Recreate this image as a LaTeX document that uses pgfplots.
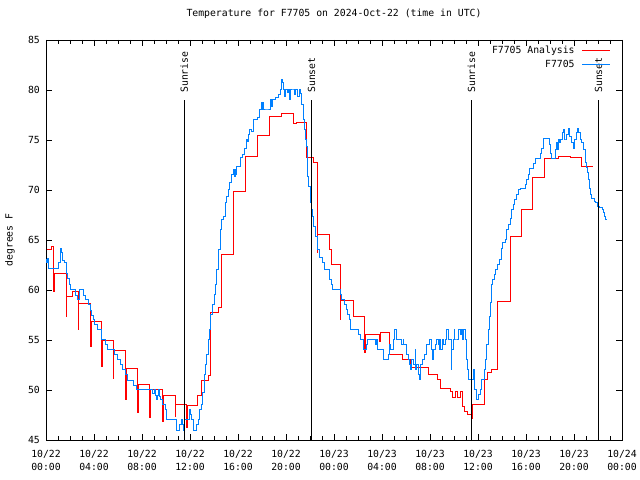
\documentclass[border=0pt]{standalone}
\usepackage{fontspec}
\setmainfont{DejaVu Sans Mono}
\usepackage{pgfplots}
\usepackage{pgfplotstable}
\pgfplotsset{compat=1.18}
\definecolor{obsblue}{RGB}{0,128,255}
\definecolor{anared}{RGB}{255,0,0}

% hours since 10/22 00:00 UTC, degrees F
\pgfplotstableread{
h T
0.05 64.0
0.47 64.3
0.64 59.8
0.70 61.6
1.67 57.3
1.72 59.3
2.22 59.8
2.69 56.0
2.74 58.6
3.72 54.3
3.77 56.8
4.64 52.3
4.69 54.9
5.61 51.1
5.66 53.9
6.64 49.0
6.69 52.1
7.64 47.7
7.69 50.5
8.64 47.2
8.69 50.0
9.72 46.8
9.77 49.4
10.75 47.3
10.80 48.5
11.72 46.2
11.77 48.4
12.65 49.4
12.97 50.9
13.50 51.4
13.67 57.7
14.36 58.2
14.65 63.5
15.60 69.8
16.60 73.3
17.64 75.4
18.61 77.3
19.64 77.6
20.60 76.6
20.90 76.7
21.70 73.2
22.30 72.7
22.60 63.7
22.65 65.5
23.60 64.0
23.75 62.5
24.50 57.0
24.55 58.9
25.60 57.3
26.55 53.7
26.60 55.5
27.75 54.8
27.90 55.7
28.60 53.5
29.70 53.0
30.40 52.2
31.85 51.5
32.60 51.0
32.90 50.1
33.67 49.8
33.90 49.2
34.10 49.8
34.30 49.2
34.50 49.8
34.70 48.3
34.85 47.8
35.10 47.5
35.45 47.1
35.50 48.5
36.50 51.0
36.80 51.7
37.10 52.0
37.64 58.8
38.67 65.3
39.64 68.0
40.56 71.2
41.58 73.1
42.69 73.3
43.67 73.2
44.64 72.3
45.56 72.3
}\analysis

\pgfplotstableread{
h T
0.00 63.0
0.06 62.7
0.12 63.1
0.22 62.1
1.08 62.7
1.22 64.1
1.30 63.7
1.36 62.9
1.56 62.7
1.67 61.6
1.78 61.1
1.97 60.5
2.06 60.0
2.42 59.4
2.61 59.0
2.83 60.0
3.11 59.4
3.31 59.0
3.53 58.5
3.67 57.9
3.78 57.4
3.94 57.0
4.08 56.5
4.28 56.0
4.61 55.0
4.92 54.5
5.11 54.0
5.67 53.5
5.94 53.0
6.17 52.5
6.36 52.0
6.64 51.5
6.78 50.9
7.33 50.4
7.53 50.0
8.89 49.6
9.00 50.0
9.10 49.4
9.17 49.0
9.25 49.4
9.36 50.0
9.45 49.3
9.56 49.0
9.72 48.5
9.92 48.0
10.06 47.0
10.89 46.0
11.10 46.5
11.25 47.0
11.39 46.5
11.45 46.0
11.58 47.0
11.94 48.0
12.00 47.5
12.14 47.0
12.28 46.0
12.56 46.5
12.69 47.0
12.83 48.0
12.97 48.5
13.06 49.7
13.17 51.5
13.25 52.5
13.39 53.5
13.53 55.0
13.61 56.0
13.72 57.5
13.89 58.5
14.00 59.5
14.11 60.5
14.22 62.0
14.36 64.0
14.50 66.0
14.64 67.0
14.78 67.3
14.92 68.7
15.06 69.3
15.19 70.0
15.33 70.7
15.47 71.5
15.61 72.0
15.68 71.3
15.75 72.0
15.83 71.5
15.90 72.3
16.20 73.2
16.40 73.5
16.55 74.1
16.70 75.0
16.78 74.8
16.85 75.5
16.94 76.0
17.10 75.8
17.28 77.0
17.64 77.2
17.78 78.0
17.92 78.7
18.00 78.0
18.05 78.7
18.15 78.0
18.40 78.0
18.67 79.0
18.80 78.3
18.90 79.0
19.10 79.2
19.39 79.5
19.58 80.0
19.64 81.0
19.72 80.7
19.80 80.0
19.86 79.3
19.95 80.0
20.10 79.7
20.20 80.0
20.30 79.0
20.40 80.0
20.60 80.0
20.70 79.5
20.80 80.0
20.97 79.3
21.10 80.0
21.17 79.6
21.25 79.2
21.33 78.5
21.44 77.0
21.53 76.0
21.61 75.0
21.67 74.3
21.75 72.7
21.81 71.3
21.89 70.3
22.00 69.3
22.06 68.7
22.11 68.0
22.17 67.3
22.28 66.3
22.44 65.3
22.64 64.0
22.83 63.2
23.00 62.7
23.19 62.0
23.61 61.0
23.75 60.5
23.89 60.0
24.50 59.5
24.60 59.0
24.90 58.5
25.00 58.0
25.15 57.5
25.25 57.0
25.39 56.0
26.03 55.5
26.22 55.0
26.44 54.0
26.67 54.5
26.78 55.0
27.42 54.5
27.55 55.0
27.60 54.0
28.11 53.0
28.53 53.5
28.61 54.5
28.72 54.0
28.94 55.0
29.08 56.0
29.22 55.0
29.64 54.5
29.75 55.0
29.83 54.5
30.00 53.5
30.19 53.0
30.33 52.5
30.40 52.0
30.47 53.0
30.61 52.5
30.75 54.0
30.83 52.0
30.90 52.5
31.03 51.5
31.10 51.0
31.17 52.5
31.39 53.0
31.58 53.5
31.72 54.5
31.92 55.0
32.14 54.0
32.20 53.0
32.28 54.0
32.42 54.5
32.55 55.0
32.69 54.5
32.75 54.0
32.83 55.0
32.90 54.0
33.00 55.0
33.11 54.5
33.25 55.0
33.39 56.0
33.58 55.0
33.75 52.0
33.81 54.0
33.94 55.0
34.03 56.0
34.08 55.0
34.14 55.0
34.36 56.0
34.50 55.5
34.64 56.0
34.70 55.0
34.78 56.0
34.92 55.0
35.06 53.0
35.14 52.0
35.19 51.0
35.60 52.0
35.68 50.0
35.89 49.0
36.03 49.5
36.17 50.0
36.30 51.0
36.53 52.0
36.61 53.0
36.70 54.5
36.86 56.0
36.92 57.3
37.03 58.7
37.14 60.5
37.22 61.0
37.36 61.5
37.47 62.0
37.61 62.5
37.75 63.0
37.92 64.1
38.03 64.7
38.25 65.0
38.39 66.0
38.53 66.5
38.67 67.1
38.80 68.0
38.94 68.5
39.08 69.0
39.22 69.5
39.36 70.0
39.50 70.1
39.92 70.5
40.06 71.0
40.20 71.5
40.33 72.1
40.60 72.6
40.75 73.1
41.17 73.6
41.30 74.1
41.44 75.1
41.94 74.5
42.00 73.6
42.14 73.1
42.42 74.0
42.50 74.7
42.60 74.0
42.72 75.0
42.80 74.7
42.89 75.0
43.06 75.7
43.12 76.0
43.18 75.0
43.30 75.0
43.40 75.5
43.53 76.1
43.65 75.3
43.78 74.7
43.94 74.1
44.08 75.0
44.22 75.7
44.28 76.1
44.36 75.7
44.50 75.0
44.64 74.7
44.78 74.0
44.92 72.7
45.00 72.2
45.14 71.7
45.20 71.0
45.28 70.1
45.39 69.5
45.47 69.1
45.67 68.8
45.83 68.7
45.94 68.3
46.11 68.2
46.39 68.0
46.44 67.7
46.58 67.3
46.64 67.0
46.66 67.0
}\observed

\begin{document}
\fontsize{9.8bp}{12.7bp}\selectfont
\begin{tikzpicture}
\useasboundingbox (0,0) rectangle (640bp,480bp);
\begin{axis}[
    at={(46bp,40bp)}, anchor=south west,
    scale only axis, width=576bp, height=400bp,
    xmin=0, xmax=48, ymin=45, ymax=85,
    axis line style={black, line width=0.8bp},
    tick style={black, line width=0.8bp},
    major tick length=6bp, minor tick length=4bp,
    xtick={0,4,...,48},
    minor x tick num=3,
    xticklabels={{10/22\\00:00},{10/22\\04:00},{10/22\\08:00},{10/22\\12:00},{10/22\\16:00},{10/22\\20:00},{10/23\\00:00},{10/23\\04:00},{10/23\\08:00},{10/23\\12:00},{10/23\\16:00},{10/23\\20:00},{10/24\\00:00}},
    xticklabel style={align=center, anchor=north, inner sep=0pt, yshift=-10bp},
    ytick={45,50,...,85},
    yticklabel style={anchor=east, inner sep=0pt, xshift=-6bp},
    /pgf/number format/assume math mode=true,
    title={Temperature for F7705 on 2024-Oct-22 (time in UTC)},
    title style={at={(axis description cs:0.5,1)}, anchor=center, inner sep=0pt, yshift=20bp},
    ylabel={degrees F},
    ylabel style={at={(axis description cs:-0.0625,0.5)}, anchor=center, inner sep=0pt},
    legend plot pos=right,
    legend cell align=right,
    legend style={at={(axis description cs:1,1)}, anchor=north east,
        xshift=-8bp, yshift=-2bp, fill=none, draw=none,
        row sep=1bp, column sep=5bp, font=\fontsize{9.8bp}{12.7bp}\selectfont},
]
\addplot[const plot, color=anared, line width=1bp,
    legend image code/.code={\draw[color=anared, line width=1.2bp] (0bp,0bp) -- (28bp,0bp);}]
    table[x=h, y=T] {\analysis};
\addlegendentry{F7705 Analysis}
\addplot[const plot, color=obsblue, line width=1bp,
    legend image code/.code={\draw[color=obsblue, line width=1.2bp] (0bp,0bp) -- (28bp,0bp);}]
    table[x=h, y=T] {\observed};
\addlegendentry{F7705}

\addplot[black, line width=0.9bp, forget plot] coordinates {(11.52,45) (11.52,79)};
\addplot[black, line width=0.9bp, forget plot] coordinates {(22.13,45) (22.13,79)};
\addplot[black, line width=0.9bp, forget plot] coordinates {(35.46,45) (35.46,79)};
\addplot[black, line width=0.9bp, forget plot] coordinates {(46.05,45) (46.05,79)};
\node[rotate=90, anchor=west, inner sep=0pt] at ([yshift=7bp]axis cs:11.52,79) {Sunrise};
\node[rotate=90, anchor=west, inner sep=0pt] at ([yshift=7bp]axis cs:22.13,79) {Sunset};
\node[rotate=90, anchor=west, inner sep=0pt] at ([yshift=7bp]axis cs:35.46,79) {Sunrise};
\node[rotate=90, anchor=west, inner sep=0pt] at ([yshift=7bp]axis cs:46.05,79) {Sunset};
\end{axis}
\end{tikzpicture}
\end{document}
